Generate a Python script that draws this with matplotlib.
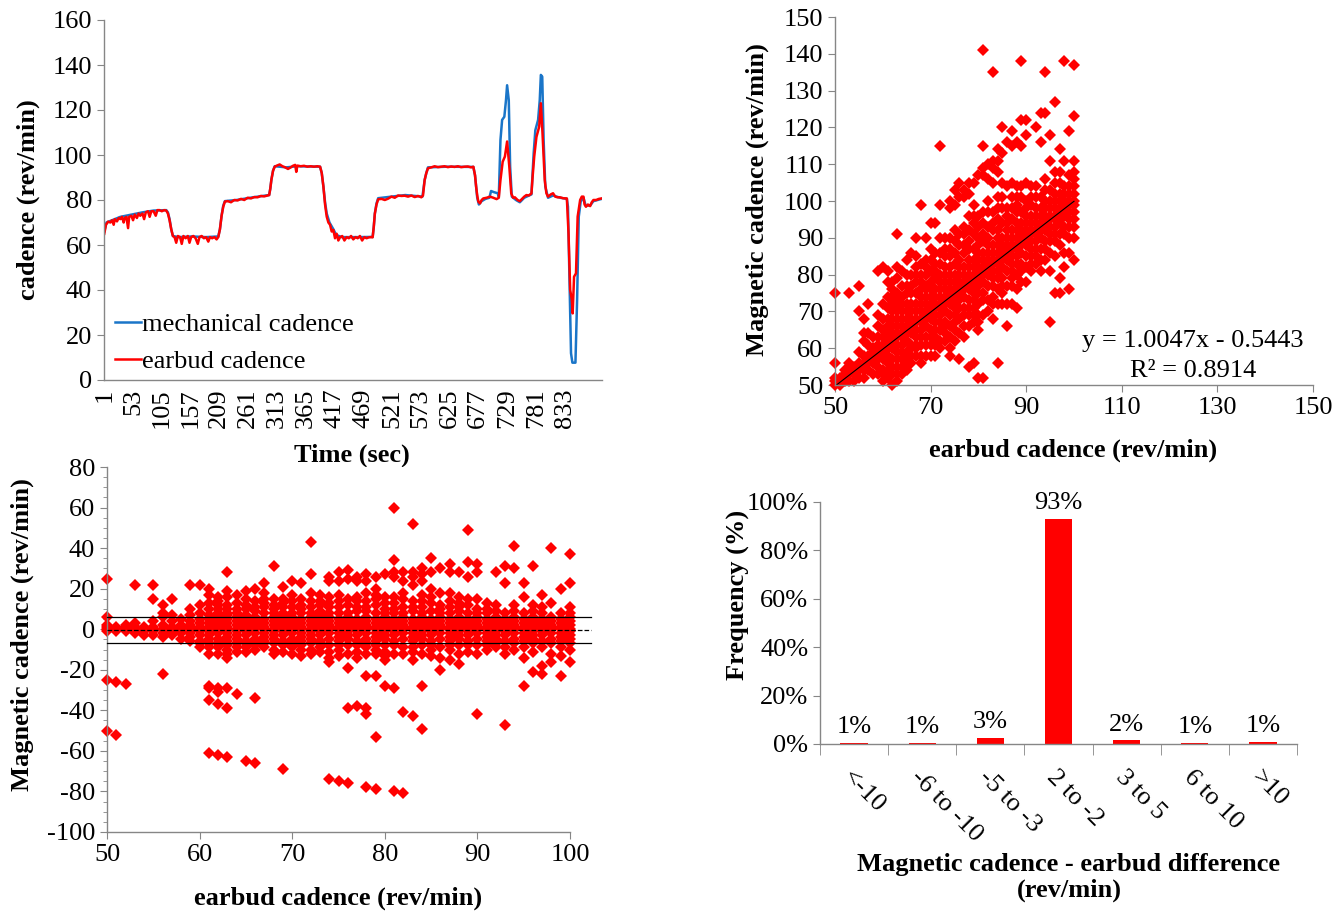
import numpy as np
import matplotlib
matplotlib.use('Agg')
import matplotlib.pyplot as plt

plt.rcParams['font.family'] = ['Liberation Serif', 'DejaVu Serif']
plt.rcParams['font.size'] = 19
plt.rcParams['axes.unicode_minus'] = False

# ---- time series (sec, rev/min) ----
earbud_t = [1, 4, 8, 12, 15, 18, 20, 24, 27, 30, 33, 36, 38, 41, 44, 46, 50, 53, 56, 60,
            63, 66, 70, 73, 76, 80, 83, 86, 90, 94, 97, 101, 105, 109, 113, 116, 119, 122, 125, 128,
            131, 134, 138, 141, 144, 148, 152, 155, 158, 162, 166, 170, 173, 177, 181, 185, 189, 192, 196, 200,
            204, 207, 210, 213, 216, 219, 224, 230, 236, 242, 248, 254, 260, 266, 272, 278, 284, 290, 296, 299,
            301, 303, 306, 309, 313, 318, 323, 328, 333, 338, 342, 346, 348, 350, 356, 362, 368, 374, 380, 386,
            391, 394, 397, 400, 403, 406, 409, 412, 415, 418, 421, 424, 427, 431, 435, 439, 443, 447, 451, 455,
            459, 463, 467, 471, 475, 479, 483, 486, 488, 490, 493, 496, 502, 508, 514, 520, 526, 532, 538, 544,
            550, 556, 562, 568, 574, 577, 580, 583, 586, 592, 598, 604, 610, 616, 622, 628, 634, 640, 646, 652,
            658, 664, 668, 671, 673, 675, 677, 680, 683, 686, 692, 698, 704, 710, 714, 717, 721, 725, 729, 733,
            736.5, 740, 743, 748, 752, 756, 760, 764, 768, 773, 775, 778, 782, 787, 790, 793, 797, 800, 803, 808,
            812, 816, 820, 824.5, 830, 837, 840, 843, 846, 847.5, 850, 853.5, 856.5, 861, 864, 867, 869, 871.5, 875, 879,
            882, 885, 890, 895, 900]
earbud_v = [65, 69, 70.4, 70, 71, 69, 71.5, 70.5, 72, 71.5, 72.5, 70, 72, 72.5, 67.5, 72.5, 73, 71, 73.5, 72,
            74, 73, 74, 71.5, 74.5, 75, 72.5, 75, 75, 73, 75.5, 75.5, 75, 75.5, 75.3, 74, 71, 67, 64, 63.5,
            61, 64, 63.5, 60.5, 64, 63, 64, 61, 63.5, 64, 63, 60.5, 63.5, 64, 63, 63.5, 61.5, 63.5, 63, 63.5,
            62.5, 63.5, 67, 73, 77, 79.3, 79.5, 79, 80, 79.8, 80.5, 80, 81, 80.7, 81.3, 81.2, 81.8, 81.6, 82, 82.2,
            85, 89, 93, 94.8, 95.3, 95.8, 95, 94.5, 93.8, 94.5, 95.2, 95.6, 92.5, 95.3, 95, 95.2, 94.8, 95, 94.8, 95,
            94.8, 92, 86, 78, 72.6, 70, 69, 66, 66.7, 63, 65, 62, 63.4, 64, 62, 63.5, 63, 64, 62.5, 63.5,
            63, 64, 62, 63.5, 63, 63.4, 63.5, 63.4, 68, 74, 78, 80.3, 80.5, 80, 80.6, 81.5, 81, 82, 81.8, 81.9,
            81.5, 82, 81.3, 81.8, 81.2, 82, 88.9, 92, 94.1, 94.5, 95, 94.6, 94.8, 95, 94.6, 94.9, 94.7, 95, 94.6, 94.8,
            94.9, 94.5, 94.8, 91, 86, 82, 79.3, 78.5, 80, 80.7, 81, 81.5, 81, 80.4, 81, 88.9, 97, 99.3, 106, 94.8,
            82.9, 81, 81.2, 80, 79.5, 80.5, 81.5, 82.2, 82, 82.9, 90, 99.3, 108, 112.6, 123, 109.6, 88.9, 83, 81.5, 82.5,
            83, 81.5, 81.2, 81.2, 80.8, 80.7, 65.2, 40, 35.6, 29.6, 45.9, 47.4, 72.6, 80, 81.5, 81.5, 78, 77, 78, 77.3,
            79, 80, 80, 80.5, 80.7]

mech_t = [1, 5, 15, 30, 50, 70, 90, 113, 116, 119, 122, 125, 135, 160, 185, 207, 210, 213, 216, 219,
          240, 270, 299, 301, 303, 306, 309, 330, 350, 391, 394, 397, 400, 403, 408, 415, 420, 430, 460, 486,
          488, 490, 493, 496, 520, 545, 576, 580, 583, 586, 620, 668, 671, 673, 675, 678, 683, 690, 697, 700,
          705, 712, 714, 717, 720, 724, 727, 729, 732, 734.5, 737.5, 745, 752, 760, 773, 777, 780, 785, 788, 790,
          792.5, 795, 798, 803, 812, 825, 837, 839, 842, 844.5, 847, 852.5, 855.5, 858.5, 862, 867, 871, 879, 885, 900]
mech_v = [66, 70, 71, 72.5, 73.5, 74.5, 75.3, 75.5, 74.5, 71.5, 67, 64, 63.5, 63.8, 63.5, 63.8, 67, 73, 77.5, 79.5,
          80, 81.2, 82.2, 85, 89, 93, 95, 94.5, 95, 94.8, 92, 86, 79, 74, 70, 67, 64.5, 63.5, 63.5, 63.6,
          68, 74, 78.5, 80.8, 81.5, 82.2, 81.5, 88.9, 92, 94.5, 94.8, 94.7, 91, 86, 81, 78, 79.5, 80.5, 81, 84,
          83.5, 83, 81.5, 106.7, 115.6, 117, 124.4, 131, 124.4, 94.8, 81.5, 80, 79, 81, 82.5, 100.7, 111, 115.6, 124.4, 135.6,
          134.8, 106.7, 86, 81, 82, 81, 80.5, 77, 41.5, 11.9, 7.7, 7.7, 35.6, 72.6, 79.3, 81, 77.5, 77.5, 79.5, 80.5]

time_ticks = [1, 53, 105, 157, 209, 261, 313, 365, 417, 469, 521, 573, 625, 677, 729, 781, 833]

# ---- magnetic - earbud differences, one list per integer earbud cadence 50..100 ----
cadence_cols = list(range(50, 101))
diffs_by_cadence = [
    [1, 0, -1, 2, 6, 25, -25, -50],                                              # 50
    [0, -1, 1, -26, -52],
    [0, -1, 1, 2, -27],
    [0, 1, -2, 22, 3],
    [0, -1, 1, -3],
    [0, 1, -1, 22, 15, 4, -3],                                                   # 55
    [0, -2, 2, 6, -4, 12, -22, 8],
    [0, 1, -1, 4, 15, -3, 7],
    [0, -1, 1, 2, -2, 5, -5],
    [0, -2, 2, 4, -4, 1, -1, 22, 7, -6, 10],
    [-6, -3, -1, 0, 1, 3, 5, 22, -7, 8, 12, -9],                                 # 60
    [-5, -3, -1, 0, 1, 3, 5, 20, 17, 10, -7, -12, -28, -29, -35, -61, 7, -9, 13],
    [-5, -2, -1, 0, 1, 2, 4, 6, 16, 12, 8, -12, -29, -31, -37, -62, -7, -9, 10, 14],
    [-6, -4, -2, 0, 1, 3, 5, 28, 19, 16, 12, 8, -10, -12, -14, -29, -39, -63, 7, -8, 10],
    [-5, -3, -1, 0, 2, 4, 6, 10, 17, -9, -32, 8, -7, 13, -11],
    [-6, -3, -1, 0, 1, 3, 5, 19, 15, 10, -9, -65, 7, -7, 12, -11],               # 65
    [-5, -2, 0, 1, 2, 4, 6, 20, 14, 9, -8, -34, -66, -10, 11, -6],
    [-6, -4, -2, 0, 1, 3, 5, 23, 18, 11, 8, -9, 13, -7, 15],
    [-5, -3, -1, 0, 2, 4, 6, 31, 15, 10, -10, 8, -7, 12, -12],
    [-6, -3, -1, 0, 1, 3, 5, 21, 15, 11, 8, -11, -69, -8, 13, 7],
    [-5, -2, 0, 1, 2, 4, 6, 24, 17, 11, 8, -12, -7, -9, 14],                     # 70
    [-6, -4, -2, 0, 1, 3, 5, 23, 10, -13, 8, -8, 12, 15, -10],
    [-5, -3, -1, 0, 2, 4, 6, 43, 27, 18, 11, 8, -10, -12, -7, 14],
    [-6, -3, -1, 0, 1, 3, 5, 17, 9, -9, 12, -7, -11, 7, 14],
    [-5, -2, 0, 1, 2, 4, 6, 26, 24, 16, 11, 8, -11, -14, -16, -74, -8, 13],
    [-6, -4, -2, 0, 1, 3, 5, 28, 24, 14, 8, -10, -13, -75, 11, -8, 17],          # 75
    [-5, -3, -1, 0, 2, 4, 6, 29, 25, 12, -12, -19, -39, -76, 8, -8, 15],
    [-6, -3, -1, 0, 1, 3, 5, 26, 24, 16, 14, 9, -11, -14, -38, -8, 11],
    [-5, -2, 0, 1, 2, 4, 6, 27, 24, 18, 14, 9, -9, -23, -39, -42, -78, -12, 11, -7],
    [-6, -4, -2, 0, 1, 3, 5, 26, 20, 17, 12, -12, -23, -53, -79, 8, -8, 15, -10],
    [-5, -3, -1, 0, 2, 4, 6, 27, 13, 10, 8, -11, -15, -28, -8, 16, -13],         # 80
    [-6, -3, -1, 0, 1, 3, 5, 60, 34, 28, 26, 16, 13, -12, -29, -80, 8, -8, 10],
    [-5, -2, 0, 1, 2, 4, 6, 28, 24, 15, 11, -9, -41, -81, -12, 8, 18],
    [-6, -4, -2, 0, 1, 3, 5, 52, 28, 26, 22, 14, -15, -43, 9, -9, -11, 11],
    [-5, -3, -1, 0, 2, 4, 6, 30, 27, 24, 17, 11, -12, -28, -49, 8, -8, 14],
    [-6, -3, -1, 0, 1, 3, 5, 35, 28, 20, -10, 9, -8, 13, -13, 16],               # 85
    [-5, -2, 0, 1, 2, 4, 6, 30, 18, 12, -14, -20, 8, -9, 10],
    [-6, -4, -2, 0, 1, 3, 5, 32, 28, 18, 11, -10, -15, 8, -8, 14],
    [-5, -3, -1, 0, 2, 4, 6, 28, 16, 11, -12, -17, -8, 9, 13],
    [-6, -3, -1, 0, 1, 3, 5, 49, 33, 26, 12, -11, 8, -8, 15],
    [-5, -2, 0, 1, 2, 4, 6, 32, 28, 15, 10, -12, -42, -8, 8],                    # 90
    [-6, -4, -2, 0, 1, 3, 5, 10, -10, 8, -8, 13],
    [-5, -3, -1, 0, 2, 4, 6, 28, -9, 9, -7, 12],
    [-6, -3, -1, 0, 1, 3, 5, 31, 23, -12, -47, 8, -9],
    [-5, -2, 0, 1, 2, 4, 41, 30, 12, -10, 6, -7, 9],
    [-6, -4, -2, 0, 1, 3, 5, 23, 16, -14, -28, 8, -9],                           # 95
    [-5, -3, -1, 0, 2, 4, 31, 12, -11, -21, 6, -7, 9],
    [-6, -3, -1, 0, 1, 3, 5, 17, -18, -22, 8, -9, 11],
    [-5, -2, 0, 1, 2, 4, 40, 13, -12, -16, 6, -7],
    [-6, -4, -2, 0, 1, 3, 20, -13, -23, 5, 8, -9],
    [-5, -3, -1, 0, 2, 4, 6, 37, 23, 11, 8, -10, -16, -7],                       # 100
]

fit_slope = 1.0047
fit_intercept = -0.5443
fit_r2 = 0.8914
ba_mean = -0.5
ba_upper = 5.9
ba_lower = -6.9

# ---- histogram of differences ----
bins = ['<-10', '-6 to -10', '-5 to -3', '2 to -2', '3 to 5', '6 to 10', '>10']
freq_pct = [0.55, 0.4, 2.4, 93.0, 1.5, 0.4, 1.0]
freq_labels = ['1%', '1%', '3%', '93%', '2%', '1%', '1%']

earbud = []
diff = []
for cad, ds in zip(cadence_cols, diffs_by_cadence):
    earbud += [cad] * len(ds)
    diff += ds
earbud = np.array(earbud, dtype=float)
diff = np.array(diff, dtype=float)
magnetic = earbud + diff

W, H = 1341, 911
GRAY = '#868686'
MS = 6.6


def box(l, r, t, b):
    return [l / W, 1 - b / H, (r - l) / W, (b - t) / H]


def style(ax):
    for s in ['top', 'right']:
        ax.spines[s].set_visible(False)
    for s in ['left', 'bottom']:
        ax.spines[s].set_color(GRAY)
        ax.spines[s].set_linewidth(1.0)
    ax.tick_params(which='both', color=GRAY, direction='out', length=5, labelsize=19)


def place_labels(ax, xl, yl):
    ax.xaxis.set_label_coords(*xl)
    ax.yaxis.set_label_coords(*yl)
    ax.xaxis.label.set_va('center')
    ax.yaxis.label.set_va('center')


fig = plt.figure(figsize=(W / 100, H / 100), dpi=100)

# top-left: time series
ax1 = fig.add_axes(box(104, 602, 20, 380))
style(ax1)
ax1.plot(mech_t, mech_v, color='#1a75c8', lw=1.8, label='mechanical cadence')
ax1.plot(earbud_t, earbud_v, color='#ff0000', lw=1.8, label='earbud cadence')
ax1.set_xlim(0.5, 900.5)
ax1.set_ylim(0, 160)
ax1.set_yticks(range(0, 161, 20))
ax1.set_xticks(time_ticks)
ax1.set_xticklabels([str(t) for t in time_ticks], rotation=90)
ax1.tick_params(axis='x', length=0, pad=6)
ax1.set_ylabel('cadence (rev/min)', fontweight='bold', fontsize=19)
ax1.set_xlabel('Time (sec)', fontweight='bold', fontsize=19)
place_labels(ax1, (0.498, -0.208), (-0.152, 0.5))
ax1.legend(loc='lower left', bbox_to_anchor=(0.0, -0.01), frameon=False, fontsize=19,
           handlelength=1.0, handletextpad=0.05, borderaxespad=0.0, labelspacing=0.5)

# top-right: magnetic vs earbud scatter
ax2 = fig.add_axes(box(835, 1313, 17, 385))
style(ax2)
keep = magnetic >= 50
ax2.plot(earbud[keep], magnetic[keep], 'D', color='#ff0000', ms=MS, mew=0, clip_on=False)
fx = np.array([earbud.min(), earbud.max()])
ax2.plot(fx, fit_slope * fx + fit_intercept, color='black', lw=0.8)
ax2.set_xlim(50, 150)
ax2.set_ylim(50, 150)
ax2.set_xticks(range(50, 151, 20))
ax2.set_yticks(range(50, 151, 10))
ax2.text(124.9, 62, 'y = %.4fx - %.4f' % (fit_slope, -fit_intercept), ha='center', va='center', fontsize=19)
ax2.text(124.9, 53.8, 'R² = %.4f' % fit_r2, ha='center', va='center', fontsize=19)
ax2.set_ylabel('Magnetic cadence (rev/min)', fontweight='bold', fontsize=19)
ax2.set_xlabel('earbud cadence (rev/min)', fontweight='bold', fontsize=19)
place_labels(ax2, (0.498, -0.177), (-0.163, 0.503))

# bottom-left: difference vs earbud
ax3 = fig.add_axes(box(107, 570, 467, 832))
style(ax3)
ax3.plot(earbud, diff, 'D', color='#ff0000', ms=MS, mew=0, clip_on=False, zorder=2)
for yv, ls in [(ba_upper, '-'), (ba_mean, '--'), (ba_lower, '-')]:
    ax3.plot([50, 102.3], [yv, yv], color='black', lw=0.9, ls=ls, clip_on=False, zorder=3)
ax3.set_xlim(50, 100)
ax3.set_ylim(-100, 80)
ax3.set_xticks(range(50, 101, 10))
ax3.set_yticks(range(-100, 81, 20))
ax3.set_yticks(range(-100, 81, 5), minor=True)
ax3.tick_params(axis='y', which='minor', length=3)
ax3.set_ylabel('Magnetic cadence (rev/min)', fontweight='bold', fontsize=19)
ax3.set_xlabel('earbud cadence (rev/min)', fontweight='bold', fontsize=19)
place_labels(ax3, (0.499, -0.181), (-0.184, 0.54))

# bottom-right: frequency of differences
ax4 = fig.add_axes(box(820, 1297, 502, 744))
style(ax4)
xpos = np.arange(len(bins))
ax4.bar(xpos, freq_pct, width=0.4, color='#ff0000')
for x, v, lab in zip(xpos, freq_pct, freq_labels):
    ax4.text(x, v + 2, lab, ha='center', va='bottom', fontsize=19)
ax4.set_xlim(-0.5, len(bins) - 0.5)
ax4.set_ylim(0, 100)
ax4.set_yticks(range(0, 101, 20))
ax4.set_yticklabels(['%d%%' % v for v in range(0, 101, 20)])
ax4.set_xticks(xpos)
ax4.set_xticklabels(bins, rotation=-45, ha='left', rotation_mode='anchor')
ax4.set_xticks(np.arange(-0.5, len(bins), 1), minor=True)
ax4.tick_params(axis='x', which='major', length=0, pad=16)
ax4.tick_params(axis='x', which='minor', length=8)
ax4.set_ylabel('Frequency (%)', fontweight='bold', fontsize=19)
ax4.set_xlabel('Magnetic cadence - earbud difference\n(rev/min)', fontweight='bold', fontsize=19,
               linespacing=1.15)
place_labels(ax4, (0.522, -0.55), (-0.17, 0.616))

fig.savefig('out.png', dpi=100)
